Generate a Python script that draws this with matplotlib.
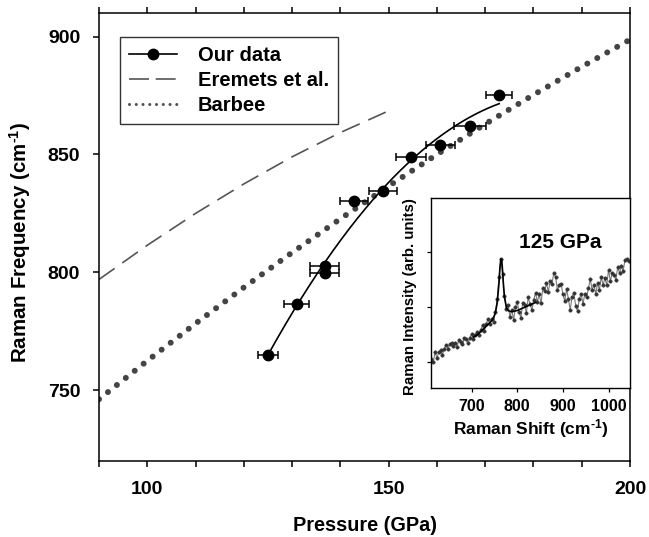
import numpy as np
import matplotlib
matplotlib.use("Agg")
import matplotlib.pyplot as plt
from matplotlib.lines import Line2D
from matplotlib.ticker import MultipleLocator, FixedLocator

plt.rcParams['font.family'] = ['Liberation Sans', 'DejaVu Sans']
plt.rcParams['font.weight'] = 'bold'
plt.rcParams['mathtext.fontset'] = 'custom'
plt.rcParams['mathtext.rm'] = 'Liberation Sans:bold'
plt.rcParams['mathtext.it'] = 'Liberation Sans:bold'
plt.rcParams['mathtext.bf'] = 'Liberation Sans:bold'
plt.rcParams['mathtext.default'] = 'rm'

# ---- main data ----
our_p = [125.0, 131.0, 136.8, 136.8, 142.9, 148.8, 154.7, 160.7, 166.8, 172.9]
our_f = [764.8, 786.7, 802.6, 799.8, 830.2, 834.5, 849.1, 854.1, 862.1, 875.2]
our_perr = [2.0, 2.6, 3.0, 3.0, 2.9, 2.9, 3.1, 3.0, 3.3, 2.7]

eremets_p = [90, 100, 110, 120, 130, 140, 150]
eremets_f = [797.0, 811.5, 825.0, 837.5, 849.0, 859.3, 868.5]

barbee_p = [90, 100, 110, 120, 130, 140, 150, 160, 170, 180, 190, 200]
barbee_f = [746.2, 762.5, 778.3, 793.6, 808.4, 822.7, 836.6, 850.0, 862.9, 875.3, 887.2, 898.7]

legend_labels = ["Our data", "Eremets et al.", "Barbee"]
x_ticklabels = [100, 150, 200]
y_ticklabels = [750, 800, 850, 900]

# ---- inset data ----
shift = list(range(612, 1045, 4))
intensity = [29, 26, 36, 30, 36, 38, 33, 39, 43, 39, 44, 45, 42, 45, 41, 48, 46, 44, 50, 49,
             45, 50, 54, 49, 53, 56, 53, 58, 63, 57, 64, 69, 64, 69, 66,
             76, 89, 111, 129, 114, 92, 79,
             83, 71, 78, 68, 81, 86, 76, 70, 85, 83, 75, 91, 84, 78, 88, 95, 86, 94, 85, 100,
             97, 105, 96, 107, 104, 115, 111, 98, 103, 104, 94, 87, 99, 89, 78, 91, 95, 82, 77, 89,
             94, 84, 94, 91, 100, 109, 98, 103, 94, 105, 98, 111, 103, 110, 103, 118, 107, 115, 113, 108,
             121, 115, 122, 117, 128, 129, 127]
fit_shift = [704, 712, 720, 728, 736, 744, 748, 752, 756, 760, 762, 764, 766, 768, 770, 772,
             776, 780, 784, 790, 800, 810, 820, 830, 840]
fit_int = [51, 53, 56.5, 60, 63.5, 67.5, 70.5, 75, 85, 105, 120, 129, 128, 116, 101, 91,
           81, 77.5, 76.5, 76.5, 77.5, 79.5, 81.5, 83.5, 85.5]
inset_xticks = [700, 800, 900, 1000]
inset_yticks = [26, 81, 136]

W, H = 649, 537
fig = plt.figure(figsize=(W / 100, H / 100), dpi=100)
ax = fig.add_axes([99 / W, 1 - 461 / H, (630 - 99) / W, (461 - 13) / H])

# Barbee dotted
ax.plot(barbee_p, barbee_f, color='#444444', lw=4.3, linestyle=(0, (0.01, 1.9)),
        dash_capstyle='round', zorder=2)
# Eremets dashed
ax.plot(eremets_p, eremets_f, color='#555555', lw=1.2, linestyle=(0, (11.5, 5.6)), zorder=2)
# fit curve through our data
coef = np.polyfit(our_p, our_f, 2)
pp = np.linspace(min(our_p), max(our_p), 200)
ax.plot(pp, np.polyval(coef, pp), color='black', lw=1.2, zorder=3)
ax.errorbar(our_p, our_f, xerr=our_perr, fmt='o', color='black', ms=7.5,
            elinewidth=1.1, capsize=3.2, capthick=1.1, zorder=4)

ax.set_xlim(90, 200)
ax.set_ylim(720, 910)
ax.xaxis.set_major_locator(FixedLocator(x_ticklabels))
ax.xaxis.set_minor_locator(MultipleLocator(10))
ax.yaxis.set_major_locator(FixedLocator(y_ticklabels))
ax.tick_params(axis='x', which='both', direction='out', top=True, bottom=True,
               length=4.5, width=1.1, labelsize=14, pad=10)
ax.tick_params(axis='y', which='both', direction='out', left=True, right=False,
               length=4.5, width=1.1, labelsize=14, pad=9)
for s in ax.spines.values():
    s.set_linewidth(1.1)
ax.set_xlabel("Pressure (GPa)", fontsize=14.3, fontweight='bold')
ax.set_ylabel(r"Raman Frequency (cm$^{\text{-}1}$)", fontsize=14.8, fontweight='bold')
ax.xaxis.set_label_coords(0.5, -0.122)
ax.yaxis.set_label_coords(-0.124, 0.487)

handles = [
    Line2D([], [], color='black', lw=1.2, marker='o', ms=7.5),
    Line2D([], [], color='#555555', lw=1.2, linestyle=(0, (12, 4))),
    Line2D([], [], color='#505050', lw=2.2, linestyle=(0, (0.01, 2.2)), dash_capstyle='round'),
]
leg = ax.legend(handles, legend_labels, loc='upper left', bbox_to_anchor=(0.0395, 0.946),
                fontsize=14.5, frameon=True, fancybox=False, edgecolor='black',
                handlelength=2.4, handletextpad=1.0, labelspacing=0.3, borderpad=0.45,
                borderaxespad=0)
leg.get_frame().set_linewidth(1.0)
for t in leg.get_texts():
    t.set_fontweight('bold')

# ---- inset ----
ins = fig.add_axes([431 / W, 1 - 388 / H, (630 - 431) / W, (388 - 198) / H])
ins.plot(shift, intensity, color='#7a7a7a', lw=0.8, marker='o', ms=2.5,
         mfc='#333333', mec='#333333', mew=0.3, zorder=2)
ins.plot(fit_shift, fit_int, color='black', lw=1.2, zorder=3)
ins.set_xlim(611, 1047)
ins.set_ylim(0, 190)
ins.set_xticks(inset_xticks)
ins.set_yticks(inset_yticks)
ins.set_yticklabels([])
ins.tick_params(direction='out', length=3, width=0.9, labelsize=11.5, pad=5)
for s in ins.spines.values():
    s.set_linewidth(1.0)
ins.set_xlabel(r"Raman Shift (cm$^{\text{-}1}$)", fontsize=12.5, fontweight='bold')
ins.set_ylabel("Raman Intensity (arb. units)", fontsize=10.8, fontweight='bold')
ins.xaxis.set_label_coords(0.5, -0.155)
ins.yaxis.set_label_coords(-0.07, 0.479)
ins.text(0.65, 0.765, "125 GPa", transform=ins.transAxes, ha='center', va='center',
         fontsize=15, fontweight='bold')

fig.savefig("out.png", dpi=100)
